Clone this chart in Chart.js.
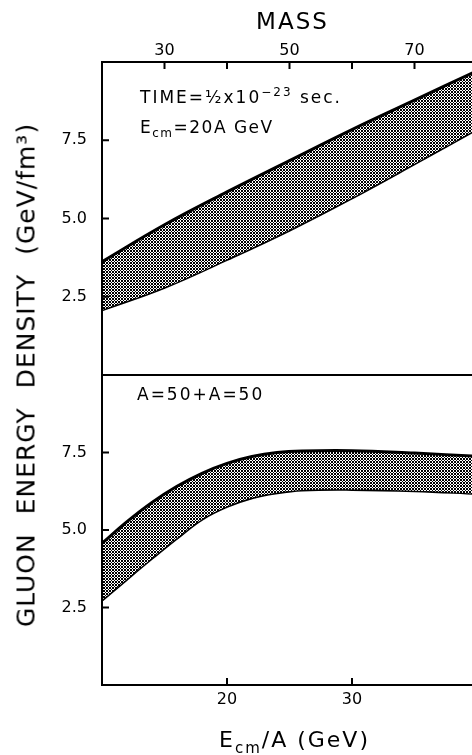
<!DOCTYPE html>
<html>
<head>
<meta charset="utf-8">
<script src="https://cdn.jsdelivr.net/npm/chart.js@4.4.1/dist/chart.umd.min.js"></script>
<style>
html, body { margin: 0; padding: 0; background: #fff; overflow: hidden; }
#wrap { position: relative; width: 472px; height: 755px; overflow: hidden; background: #fff; }
#topChart { position: absolute; left: 0; top: 0; }
#bottomChart { position: absolute; left: 0; top: 370px; }
#yTitle {
  position: absolute; left: 26px; top: 375px;
  transform: translate(-50%, -50%) rotate(-90deg);
  white-space: nowrap; line-height: 1;
  font-family: "DejaVu Sans"; font-size: 25px; color: #000;
  letter-spacing: 1px; word-spacing: 10px;
}
</style>
</head>
<body>
<div id="wrap">
  <canvas id="topChart" width="480" height="376"></canvas>
  <canvas id="bottomChart" width="480" height="385"></canvas>
  <div id="yTitle">GLUON ENERGY DENSITY (GeV/fm³)</div>
</div>
<script>
// band vs nucleus mass, Ecm = 20A GeV
var massValues = [20, 30, 40, 50, 60, 70, 80];
var massUpper = [3.62, 4.8, 5.85, 6.85, 7.84, 8.78, 9.72];
var massLower = [2.08, 2.8, 3.69, 4.63, 5.66, 6.75, 7.86];

// band vs Ecm/A, A=50+A=50
var energyValues = [10, 12, 14, 16, 18, 20, 22, 24, 26, 30, 35, 40];
var energyUpper = [4.57, 5.27, 5.89, 6.41, 6.83, 7.15, 7.37, 7.5, 7.55, 7.56, 7.48, 7.38];
var energyLower = [2.74, 3.42, 4.09, 4.74, 5.35, 5.76, 6.04, 6.2, 6.29, 6.31, 6.27, 6.18];

// ticks
var densityTickLabels = [2.5, 5.0, 7.5];
var massTickMarks = [30, 40, 50, 60, 70];
var massTickLabels = [30, 50, 70];
var energyTickLabels = [20, 30];

var tickFont = { family: 'DejaVu Sans', size: 16 };

function pairs(xs, ys) {
  return xs.map(function (x, i) { return { x: x, y: ys[i] }; });
}

// cross-hatch fill like the printed band
function makeHatch(canvas) {
  var tile = document.createElement('canvas');
  tile.width = 3; tile.height = 3;
  var g = tile.getContext('2d');
  g.fillStyle = '#fff';
  g.fillRect(0, 0, 3, 3);
  g.fillStyle = '#000';
  for (var x = 0; x < 3; x++) {
    for (var y = 0; y < 3; y++) {
      if ((x + y) % 3 === 0 || (x - y + 3) % 3 === 0) g.fillRect(x, y, 1, 1);
    }
  }
  return canvas.getContext('2d').createPattern(tile, 'repeat');
}

// text with sub/superscripts, drawn piece by piece
function drawRuns(ctx, x, y, runs, align) {
  ctx.save();
  ctx.fillStyle = '#000';
  ctx.textBaseline = 'alphabetic';
  ctx.textAlign = 'left';
  ctx.letterSpacing = runs.spacing || '0px';
  var total = 0;
  runs.forEach(function (r) {
    ctx.font = r.size + 'px "DejaVu Sans"';
    total += ctx.measureText(r.text).width;
  });
  if (align === 'center') x -= total / 2;
  runs.forEach(function (r) {
    ctx.font = r.size + 'px "DejaVu Sans"';
    ctx.fillText(r.text, x, y + (r.dy || 0));
    x += ctx.measureText(r.text).width;
  });
  ctx.restore();
}

// frame round the plot and inward tick marks
var framePlugin = {
  id: 'frame',
  afterDraw: function (chart, args, opts) {
    var ctx = chart.ctx, a = chart.chartArea;
    var xs = chart.scales.x, ys = chart.scales.y;
    ctx.save();
    ctx.strokeStyle = '#000';
    ctx.lineWidth = 2;
    ctx.strokeRect(a.left, a.top, a.right - a.left, a.bottom - a.top);
    ctx.beginPath();
    opts.yTicks.forEach(function (v) {
      var py = ys.getPixelForValue(v);
      ctx.moveTo(a.left, py);
      ctx.lineTo(a.left + 7, py);
    });
    opts.xTicks.forEach(function (v) {
      var px = xs.getPixelForValue(v);
      var edge = opts.xSide === 'top' ? a.top : a.bottom;
      var dir = opts.xSide === 'top' ? 1 : -1;
      ctx.moveTo(px, edge);
      ctx.lineTo(px, edge + dir * 7);
    });
    ctx.stroke();
    ctx.restore();
  }
};

var topNotes = {
  id: 'topNotes',
  afterDraw: function (chart) {
    var ctx = chart.ctx, a = chart.chartArea;
    var line1 = [
      { text: 'TIME=½x10', size: 17 },
      { text: '−23', size: 12, dy: -7 },
      { text: ' sec.', size: 17 }
    ];
    line1.spacing = '2px';
    drawRuns(ctx, a.left + 38, a.top + 41, line1);
    var line2 = [
      { text: 'E', size: 17 },
      { text: 'cm', size: 12, dy: 4 },
      { text: '=20A GeV', size: 17 }
    ];
    line2.spacing = '1.5px';
    drawRuns(ctx, a.left + 38, a.top + 71, line2);
    var title = [{ text: 'MASS', size: 23 }];
    title.spacing = '2px';
    drawRuns(ctx, (a.left + a.right) / 2 + 3, 29, title, 'center');
  }
};

var bottomNotes = {
  id: 'bottomNotes',
  afterDraw: function (chart) {
    var ctx = chart.ctx, a = chart.chartArea;
    var label = [{ text: 'A=50+A=50', size: 17 }];
    label.spacing = '2px';
    drawRuns(ctx, a.left + 35, a.top + 25, label);
    var title = [
      { text: 'E', size: 22 },
      { text: 'cm', size: 15, dy: 6 },
      { text: '/A (GeV)', size: 22 }
    ];
    title.spacing = '2px';
    drawRuns(ctx, (a.left + a.right) / 2 + 5, a.bottom + 62, title, 'center');
  }
};

function bandDatasets(xs, upper, lower, hatch) {
  return [
    {
      label: 'upper',
      data: pairs(xs, upper),
      borderColor: '#000',
      borderWidth: 3,
      pointRadius: 0,
      tension: 0.4,
      fill: '+1',
      backgroundColor: hatch
    },
    {
      label: 'lower',
      data: pairs(xs, lower),
      borderColor: '#000',
      borderWidth: 3,
      pointRadius: 0,
      tension: 0.4,
      fill: false
    }
  ];
}

function noPadding(s) {
  s.paddingTop = 0;
  s.paddingBottom = 0;
  s.paddingLeft = 0;
  s.paddingRight = 0;
}

function yAxis() {
  return {
    type: 'linear',
    min: 0,
    max: 10,
    ticks: {
      stepSize: 2.5,
      padding: 15,
      color: '#000',
      font: tickFont,
      callback: function (v) { return densityTickLabels.indexOf(v) >= 0 ? v.toFixed(1) : ''; }
    },
    grid: { display: false, drawTicks: false, tickLength: 0 },
    border: { display: false },
    afterFit: function (s) { s.width = 102; noPadding(s); }
  };
}

var topCanvas = document.getElementById('topChart');
var topChart = new Chart(topCanvas, {
  type: 'line',
  data: { datasets: bandDatasets(massValues, massUpper, massLower, makeHatch(topCanvas)) },
  options: {
    responsive: false,
    maintainAspectRatio: false,
    animation: false,
    layout: { padding: { top: 0, left: 0, right: 3, bottom: 1 } },
    plugins: {
      legend: { display: false },
      tooltip: { enabled: false },
      frame: { xTicks: massTickMarks, xSide: 'top', yTicks: densityTickLabels }
    },
    scales: {
      x: {
        type: 'linear',
        position: 'top',
        min: 20,
        max: 80,
        ticks: {
          stepSize: 10,
          padding: 2,
          maxRotation: 0,
          autoSkip: false,
          color: '#000',
          font: tickFont,
          callback: function (v) { return massTickLabels.indexOf(v) >= 0 ? String(v) : ''; }
        },
        grid: { display: false, drawTicks: false, tickLength: 0 },
        border: { display: false },
        afterFit: function (s) { s.height = 62; noPadding(s); }
      },
      y: yAxis()
    }
  },
  plugins: [framePlugin, topNotes]
});

var bottomCanvas = document.getElementById('bottomChart');
var bottomChart = new Chart(bottomCanvas, {
  type: 'line',
  data: { datasets: bandDatasets(energyValues, energyUpper, energyLower, makeHatch(bottomCanvas)) },
  options: {
    responsive: false,
    maintainAspectRatio: false,
    animation: false,
    layout: { padding: { top: 5, left: 0, right: 3, bottom: 0 } },
    plugins: {
      legend: { display: false },
      tooltip: { enabled: false },
      frame: { xTicks: energyTickLabels, xSide: 'bottom', yTicks: densityTickLabels }
    },
    scales: {
      x: {
        type: 'linear',
        position: 'bottom',
        min: 10,
        max: 40,
        ticks: {
          stepSize: 10,
          padding: 5,
          maxRotation: 0,
          autoSkip: false,
          color: '#000',
          font: tickFont,
          callback: function (v) { return energyTickLabels.indexOf(v) >= 0 ? String(v) : ''; }
        },
        grid: { display: false, drawTicks: false, tickLength: 0 },
        border: { display: false },
        afterFit: function (s) { s.height = 70; noPadding(s); }
      },
      y: yAxis()
    }
  },
  plugins: [framePlugin, bottomNotes]
});
</script>
</body>
</html>
